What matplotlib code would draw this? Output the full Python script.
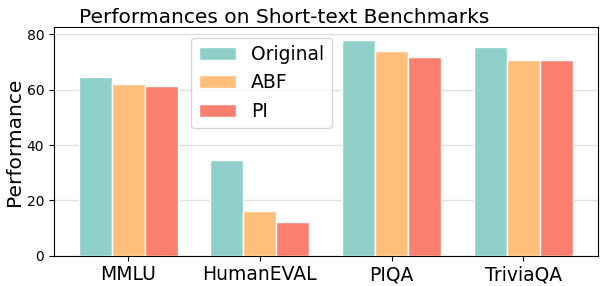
import numpy as np
import matplotlib
matplotlib.use("Agg")
import matplotlib.pyplot as plt

benchmarks = ["MMLU", "HumanEVAL", "PIQA", "TriviaQA"]
original = [64.6, 34.7, 77.8, 75.3]
abf = [62.0, 16.3, 74.0, 70.6]
pi = [61.2, 12.1, 71.9, 70.9]

series = [("Original", original, "#8ECFC9"),
          ("ABF", abf, "#FFBE7A"),
          ("PI", pi, "#FA7F6F")]

fig = plt.figure(figsize=(6, 2.86), dpi=100)
ax = fig.add_axes([0.09, 0.106, 0.906, 0.798])

x = np.arange(len(benchmarks))
width = 0.25
for i, (name, vals, color) in enumerate(series):
    ax.bar(x + (i - 1) * width, vals, width, label=name, color=color,
           edgecolor="white", linewidth=1, zorder=3)

ax.set_xticks(x)
ax.set_xticklabels(benchmarks, fontsize=13.5)
ax.set_yticks([0, 20, 40, 60, 80])
ax.tick_params(axis="y", labelsize=10)
ax.set_ylim(0, 82.5)
ax.set_ylabel("Performance", fontsize=14.5, labelpad=2)
ax.set_title("Performances on Short-text Benchmarks", fontsize=14.5,
             pad=3, x=0.423)
ax.grid(axis="y", color="#e0e0e0", linewidth=1, zorder=0)

ax.legend(loc="upper left", bbox_to_anchor=(0.235, 0.997), fontsize=13.5,
          handlelength=2.0)

fig.savefig("out.png", dpi=100)
